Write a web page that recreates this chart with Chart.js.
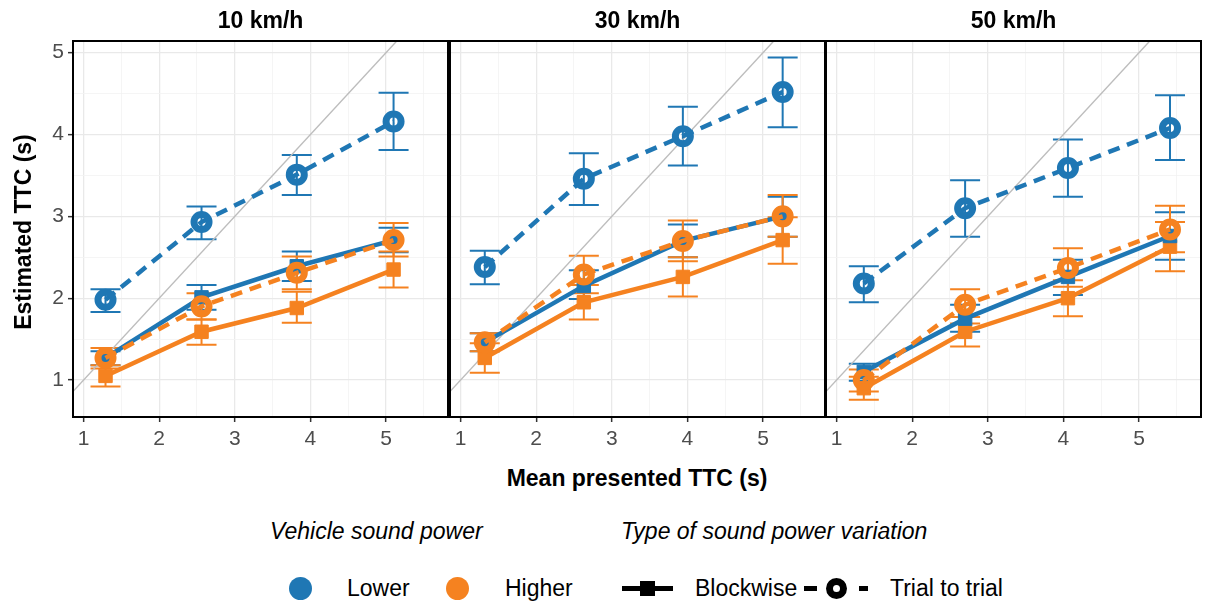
<!DOCTYPE html>
<html>
<head>
<meta charset="utf-8">
<title>Estimated vs presented TTC</title>
<script src="https://cdn.jsdelivr.net/npm/chart.js@4.4.1/dist/chart.umd.min.js"></script>
<style>
    body { margin: 0; background: #fff; font-family: 'Liberation Sans', Arial, sans-serif; color: #000; }
    #figure { position: relative; width: 1205px; height: 601px; overflow: hidden; }
    #figure canvas { position: absolute; top: 0; }
    .strip { position: absolute; top: 8px; width: 375px; text-align: center; font-weight: bold; font-size: 23px; line-height: 24px; }
    .axis-title { position: absolute; font-weight: bold; font-size: 23px; line-height: 26px; text-align: center; }
    #y-title { left: -127px; top: 219px; width: 300px; transform: rotate(-90deg); }
    #x-title { left: 73px; top: 465px; width: 1128px; }
    .leg-title { position: absolute; top: 519px; font-style: italic; font-size: 23px; line-height: 24px; }
    .leg-label { position: absolute; top: 576px; font-size: 23px; line-height: 24px; }
    .leg-dot { position: absolute; top: 577px; width: 23px; height: 23px; border-radius: 50%; }
    .leg-bar { position: absolute; height: 5px; top: 586px; background: #000; }
    .leg-square { position: absolute; top: 581px; width: 15px; height: 15px; background: #000; }
    .leg-ring { position: absolute; top: 578px; width: 21px; height: 21px; box-sizing: border-box; border: 7px solid #000; border-radius: 50%; }
</style>
</head>
<body>
<div id="figure">
    <canvas id="panel0"></canvas>
    <canvas id="panel1"></canvas>
    <canvas id="panel2"></canvas>

    <div class="strip" style="left:73px">10 km/h</div>
    <div class="strip" style="left:450px">30 km/h</div>
    <div class="strip" style="left:826px">50 km/h</div>

    <div class="axis-title" id="y-title">Estimated TTC (s)</div>
    <div class="axis-title" id="x-title">Mean presented TTC (s)</div>

    <div class="leg-title" style="left:270px">Vehicle sound power</div>
    <div class="leg-title" style="left:621px">Type of sound power variation</div>

    <div class="leg-dot" style="left:289px; background:#1f77b4"></div>
    <div class="leg-label" style="left:347px">Lower</div>
    <div class="leg-dot" style="left:446px; background:#f58220"></div>
    <div class="leg-label" style="left:505px">Higher</div>

    <div class="leg-bar" style="left:622px; width:51px"></div>
    <div class="leg-square" style="left:640px"></div>
    <div class="leg-label" style="left:695px">Blockwise</div>

    <div class="leg-bar" style="left:804px; width:13px"></div>
    <div class="leg-ring" style="left:826px"></div>
    <div class="leg-bar" style="left:859px; width:9px"></div>
    <div class="leg-label" style="left:890px">Trial to trial</div>
</div>

<script>
// Facets (vehicle speed) and mean presented TTC per facet
const speeds = ['10 km/h', '30 km/h', '50 km/h'];
const presentedTTC = [
    [1.29, 2.56, 3.82, 5.10],
    [1.32, 2.63, 3.94, 5.26],
    [1.36, 2.70, 4.06, 5.41]
];

// Lower sound power, blockwise
const lowerBlockMean = [[1.27, 2.01, 2.39, 2.71], [1.46, 2.15, 2.70, 3.00], [1.10, 1.75, 2.26, 2.76]];
const lowerBlockLo   = [[1.18, 1.86, 2.21, 2.56], [1.35, 1.99, 2.50, 2.75], [0.99, 1.59, 2.04, 2.47]];
const lowerBlockHi   = [[1.35, 2.16, 2.57, 2.86], [1.57, 2.34, 2.90, 3.24], [1.20, 1.92, 2.47, 3.05]];

// Lower sound power, trial to trial
const lowerTrialMean = [[1.98, 2.93, 3.51, 4.16], [2.38, 3.46, 3.98, 4.52], [2.18, 3.10, 3.59, 4.08]];
const lowerTrialLo   = [[1.83, 2.72, 3.26, 3.81], [2.17, 3.14, 3.62, 4.09], [1.95, 2.75, 3.24, 3.69]];
const lowerTrialHi   = [[2.11, 3.12, 3.75, 4.51], [2.58, 3.77, 4.34, 4.94], [2.39, 3.44, 3.94, 4.48]];

// Higher sound power, blockwise
const higherBlockMean = [[1.05, 1.59, 1.88, 2.35], [1.27, 1.95, 2.26, 2.71], [0.90, 1.59, 2.00, 2.63]];
const higherBlockLo   = [[0.92, 1.43, 1.70, 2.13], [1.09, 1.74, 2.02, 2.42], [0.76, 1.41, 1.78, 2.33]];
const higherBlockHi   = [[1.18, 1.74, 2.08, 2.57], [1.45, 2.16, 2.50, 2.99], [1.04, 1.77, 2.22, 2.93]];

// Higher sound power, trial to trial
const higherTrialMean = [[1.27, 1.90, 2.31, 2.71], [1.46, 2.29, 2.70, 3.00], [1.00, 1.92, 2.37, 2.84]];
const higherTrialLo   = [[1.14, 1.74, 2.11, 2.51], [1.35, 2.06, 2.45, 2.75], [0.86, 1.69, 2.14, 2.56]];
const higherTrialHi   = [[1.39, 2.06, 2.51, 2.92], [1.57, 2.52, 2.95, 3.26], [1.13, 2.11, 2.61, 3.13]];

// Identity line (estimated = presented)
const identityLine = [0, 6];

// Tick labels
const xTickLabels = [1, 2, 3, 4, 5];
const yTickLabels = [1, 2, 3, 4, 5];

const BLUE = '#1f77b4';
const ORANGE = '#f58220';
const X_RANGE = [0.86, 5.82];
const Y_RANGE = [0.548, 5.143];
const PANEL_LEFT = [73, 450, 826];
const PANEL_WIDTH = 375;
const CAP = 15;

Chart.defaults.font.family = "'Liberation Sans', Arial, sans-serif";

// major ticks at labels, minor gridlines halfway between
function gridValues(labels, range) {
    const vals = [];
    labels.forEach(v => {
        vals.push(v);
        if (v + 0.5 < range[1]) vals.push(v + 0.5);
    });
    if (labels[0] - 0.5 > range[0]) vals.unshift(labels[0] - 0.5);
    return vals;
}

const gridColor = (labels) => (ctx) => labels.includes(ctx.tick.value) ? '#e9e9e9' : '#f2f2f2';
const gridWidth = (labels) => (ctx) => labels.includes(ctx.tick.value) ? 1.3 : 0.8;
const tickColor = (labels) => (ctx) => labels.includes(ctx.tick.value) ? '#333' : 'rgba(0,0,0,0)';

function points(xs, ys) {
    return xs.map((x, i) => ({ x: x, y: ys[i] }));
}

function makePanel(p) {
    const yAxisWidth = p === 0 ? 73 : 6;
    const canvas = document.getElementById('panel' + p);
    canvas.width = yAxisWidth + PANEL_WIDTH + 2;
    canvas.height = 460;
    canvas.style.left = (PANEL_LEFT[p] - yAxisWidth) + 'px';

    const xs = presentedTTC[p];
    const bars = [
        { color: BLUE, lo: lowerBlockLo[p], hi: lowerBlockHi[p] },
        { color: BLUE, lo: lowerTrialLo[p], hi: lowerTrialHi[p] },
        { color: ORANGE, lo: higherBlockLo[p], hi: higherBlockHi[p] },
        { color: ORANGE, lo: higherTrialLo[p], hi: higherTrialHi[p] }
    ];

    // error bars go under the lines and markers
    const errorBars = {
        id: 'errorBars',
        beforeDatasetsDraw(chart) {
            const { ctx, chartArea, scales: { x, y } } = chart;
            ctx.save();
            ctx.beginPath();
            ctx.rect(chartArea.left, chartArea.top, chartArea.width, chartArea.height);
            ctx.clip();
            ctx.lineWidth = 2;
            bars.forEach(bar => {
                ctx.strokeStyle = bar.color;
                xs.forEach((xv, i) => {
                    const px = x.getPixelForValue(xv);
                    const top = y.getPixelForValue(bar.hi[i]);
                    const bottom = y.getPixelForValue(bar.lo[i]);
                    ctx.beginPath();
                    ctx.moveTo(px, top); ctx.lineTo(px, bottom);
                    ctx.moveTo(px - CAP, top); ctx.lineTo(px + CAP, top);
                    ctx.moveTo(px - CAP, bottom); ctx.lineTo(px + CAP, bottom);
                    ctx.stroke();
                });
            });
            ctx.restore();
        }
    };

    const panelBorder = {
        id: 'panelBorder',
        afterDraw(chart) {
            const { ctx, chartArea } = chart;
            ctx.save();
            ctx.strokeStyle = '#000';
            ctx.lineWidth = 2;
            ctx.strokeRect(chartArea.left, chartArea.top, chartArea.width, chartArea.height);
            ctx.restore();
        }
    };

    const trialStyle = (color) => ({
        borderColor: color,
        backgroundColor: 'rgba(0,0,0,0)',
        borderWidth: 4.5,
        borderDash: [12, 8],
        pointStyle: 'circle',
        pointRadius: 7.5,
        pointBorderWidth: 7,
        pointBorderColor: color,
        pointBackgroundColor: 'rgba(0,0,0,0)'
    });
    const blockStyle = (color) => ({
        borderColor: color,
        backgroundColor: color,
        borderWidth: 4.5,
        pointStyle: 'rect',
        pointRadius: 9.5,
        pointBorderWidth: 1,
        pointBorderColor: color,
        pointBackgroundColor: color
    });

    return new Chart(canvas, {
        type: 'line',
        data: {
            // index 0 is drawn on top
            datasets: [
                { label: 'Higher, trial to trial', data: points(xs, higherTrialMean[p]), ...trialStyle(ORANGE) },
                { label: 'Lower, trial to trial', data: points(xs, lowerTrialMean[p]), ...trialStyle(BLUE) },
                { label: 'Lower, blockwise', data: points(xs, lowerBlockMean[p]), ...blockStyle(BLUE) },
                { label: 'Higher, blockwise', data: points(xs, higherBlockMean[p]), ...blockStyle(ORANGE) },
                {
                    label: 'Identity',
                    data: points(identityLine, identityLine),
                    borderColor: '#bdbdbd',
                    borderWidth: 1.4,
                    pointRadius: 0
                }
            ]
        },
        options: {
            responsive: false,
            animation: false,
            events: [],
            layout: { autoPadding: false, padding: { left: 0, right: 2, top: 41, bottom: 0 } },
            plugins: {
                legend: { display: false },
                tooltip: { enabled: false }
            },
            scales: {
                x: {
                    type: 'linear',
                    min: X_RANGE[0],
                    max: X_RANGE[1],
                    afterBuildTicks: (scale) => {
                        scale.ticks = gridValues(xTickLabels, X_RANGE).map(v => ({ value: v }));
                    },
                    afterFit: (scale) => { scale.height = 43; },
                    border: { display: false },
                    grid: {
                        color: gridColor(xTickLabels),
                        lineWidth: gridWidth(xTickLabels),
                        tickColor: tickColor(xTickLabels),
                        tickLength: 5,
                        tickWidth: 1.5
                    },
                    ticks: {
                        callback: (v) => xTickLabels.includes(v) ? String(v) : '',
                        color: '#4d4d4d',
                        font: { size: 21 },
                        padding: 5,
                        maxRotation: 0,
                        autoSkip: false
                    }
                },
                y: {
                    type: 'linear',
                    min: Y_RANGE[0],
                    max: Y_RANGE[1],
                    afterBuildTicks: (scale) => {
                        scale.ticks = gridValues(yTickLabels, Y_RANGE).map(v => ({ value: v }));
                    },
                    afterFit: (scale) => { scale.width = yAxisWidth; },
                    border: { display: false },
                    grid: {
                        color: gridColor(yTickLabels),
                        lineWidth: gridWidth(yTickLabels),
                        tickColor: tickColor(yTickLabels),
                        tickLength: 5,
                        tickWidth: 1.5,
                        drawTicks: p === 0
                    },
                    ticks: {
                        display: p === 0,
                        callback: (v) => yTickLabels.includes(v) ? String(v) : '',
                        color: '#4d4d4d',
                        font: { size: 21 },
                        padding: 4,
                        autoSkip: false
                    }
                }
            }
        },
        plugins: [errorBars, panelBorder]
    });
}

speeds.forEach((speed, p) => makePanel(p));
</script>
</body>
</html>
